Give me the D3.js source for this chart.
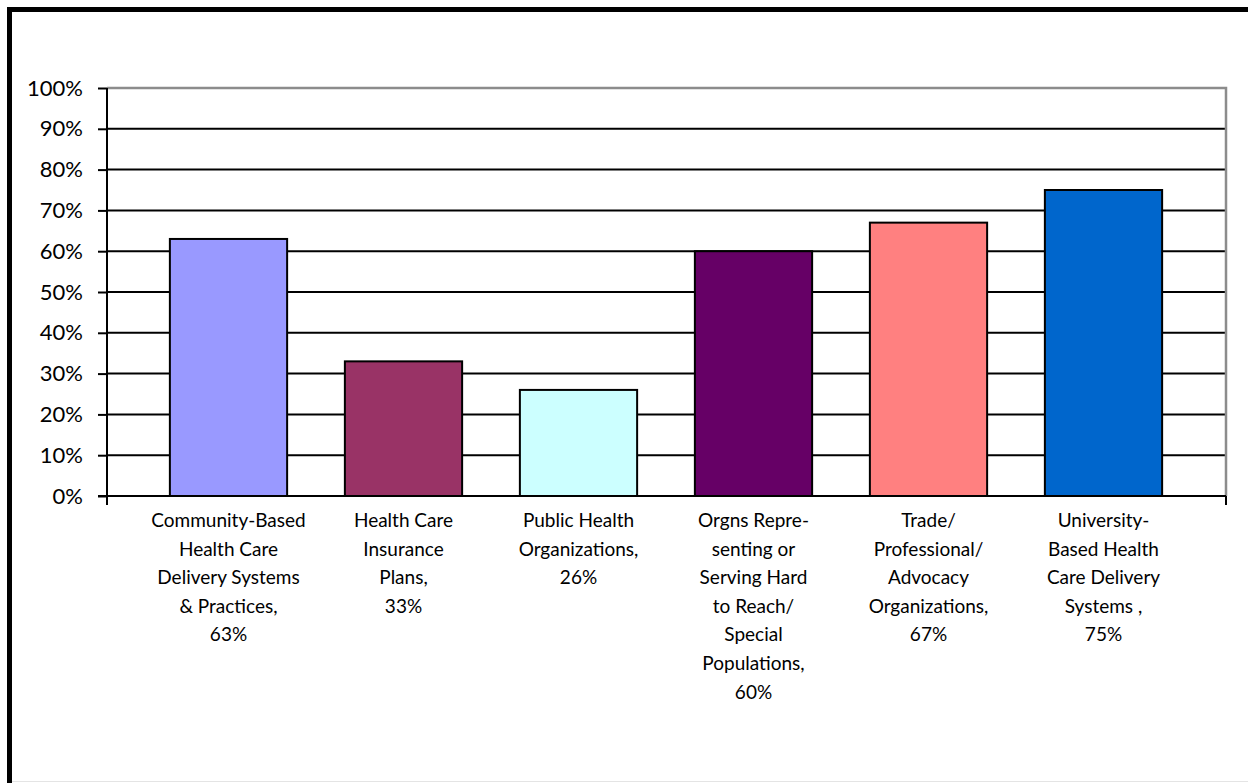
<!DOCTYPE html>
<html>
<head>
<meta charset="utf-8">
<script src="https://cdn.jsdelivr.net/npm/d3@7"></script>
<style>
  html, body { margin: 0; padding: 0; background: #fff; overflow: hidden; }
  svg { display: block; }
</style>
</head>
<body>
<svg id="chart" width="1248" height="783"></svg>
<script>
// ---- data ----
const categories = [
  "Community-Based Health Care Delivery Systems & Practices",
  "Health Care Insurance Plans",
  "Public Health Organizations",
  "Orgns Representing or Serving Hard to Reach/ Special Populations",
  "Trade/ Professional/ Advocacy Organizations",
  "University-Based Health Care Delivery Systems"
];
const labelLines = [
  ["Community-Based", "Health Care", "Delivery Systems", "& Practices,", "63%"],
  ["Health Care", "Insurance", "Plans,", "33%"],
  ["Public Health", "Organizations,", "26%"],
  ["Orgns Repre-", "senting or", "Serving Hard", "to Reach/", "Special", "Populations,", "60%"],
  ["Trade/", "Professional/", "Advocacy", "Organizations,", "67%"],
  ["University-", "Based Health", "Care Delivery", "Systems ,", "75%"]
];
const values = [63, 33, 26, 60, 67, 75];
const colors = ["#9999FF", "#993366", "#CCFFFF", "#660066", "#FF8080", "#0066CC"];
const yTicks = [0, 10, 20, 30, 40, 50, 60, 70, 80, 90, 100];

// ---- layout ----
const W = 1248, H = 783;
const plot = { left: 107, right: 1226, top: 88, bottom: 496 };
const font = "Lato, 'Open Sans', sans-serif";

const svg = d3.select("#chart");

// outer frame
svg.append("rect").attr("x", 0).attr("y", 0).attr("width", W).attr("height", H).attr("fill", "#fff");
svg.append("line").attr("x1", 12).attr("x2", W).attr("y1", 781.5).attr("y2", 781.5)
  .attr("stroke", "#e4e4e4").attr("stroke-width", 1);
svg.append("rect").attr("x", 9.5).attr("y", 9.5).attr("width", W + 20).attr("height", H + 20)
  .attr("fill", "none").attr("stroke", "#000").attr("stroke-width", 5);

const y = d3.scaleLinear().domain([0, 100]).range([plot.bottom, plot.top]);
const x = d3.scaleBand().domain(categories).range([141, 1191])
  .paddingInner(0.33).paddingOuter(0.165);

// gridlines
svg.append("g").selectAll("line").data(yTicks.filter(d => d > 0 && d < 100)).join("line")
  .attr("x1", plot.left).attr("x2", plot.right)
  .attr("y1", d => y(d)).attr("y2", d => y(d))
  .attr("stroke", "#000").attr("stroke-width", 2);

// plot border (top & right, grey)
svg.append("path")
  .attr("d", `M${plot.left},${y(100)}H${plot.right}V${plot.bottom}`)
  .attr("fill", "none").attr("stroke", "#8c8c8c").attr("stroke-width", 2.5);

// bars
svg.append("g").selectAll("rect").data(values).join("rect")
  .attr("x", (d, i) => x(categories[i]))
  .attr("width", x.bandwidth())
  .attr("y", d => y(d))
  .attr("height", d => y(0) - y(d))
  .attr("fill", (d, i) => colors[i])
  .attr("stroke", "#000").attr("stroke-width", 2);

// y axis
const yAxis = d3.axisLeft(y).tickValues(yTicks).tickFormat(d => d + "%")
  .tickSize(9).tickPadding(15).tickSizeOuter(0);
const gy = svg.append("g").attr("transform", `translate(${plot.left},0)`).call(yAxis);
gy.select(".domain").remove();
gy.selectAll(".tick line").attr("stroke", "#000").attr("stroke-width", 2);
gy.selectAll(".tick text").attr("font-family", font).attr("font-size", 22).attr("fill", "#000");
svg.append("line").attr("x1", plot.left).attr("x2", plot.left)
  .attr("y1", plot.top).attr("y2", plot.bottom + 9)
  .attr("stroke", "#000").attr("stroke-width", 2);

// x axis baseline + end tick
svg.append("line").attr("x1", plot.left - 9).attr("x2", plot.right)
  .attr("y1", plot.bottom).attr("y2", plot.bottom)
  .attr("stroke", "#000").attr("stroke-width", 2);
svg.append("line").attr("x1", plot.right).attr("x2", plot.right)
  .attr("y1", plot.bottom).attr("y2", plot.bottom + 9)
  .attr("stroke", "#000").attr("stroke-width", 2);

// category labels
const lg = svg.append("g");
labelLines.forEach((lines, i) => {
  const cx = x(categories[i]) + x.bandwidth() / 2;
  const t = lg.append("text").attr("text-anchor", "middle")
    .attr("font-family", font).attr("font-size", 19).attr("fill", "#000");
  lines.forEach((ln, j) => {
    t.append("tspan").attr("x", cx).attr("y", 527 + j * 28.6).text(ln);
  });
});
</script>
</body>
</html>
